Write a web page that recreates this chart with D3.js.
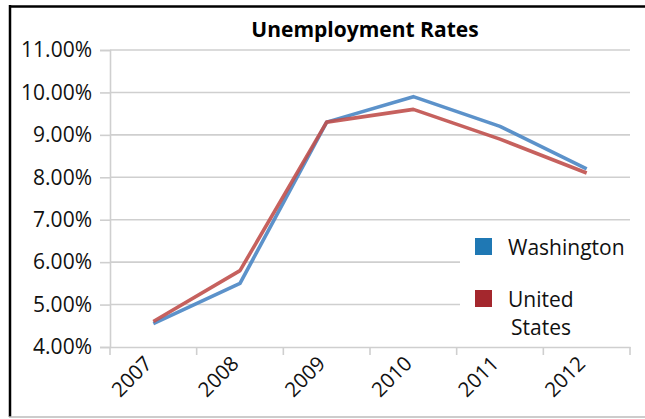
<!DOCTYPE html>
<html><head><meta charset="utf-8">
<script src="https://cdn.jsdelivr.net/npm/d3@7"></script>
<style>
html,body{margin:0;padding:0;background:#fff;}
svg{display:block;}
text{font-family:"Open Sans","Noto Sans",sans-serif;}
</style></head>
<body><svg id="c" width="645" height="419"></svg>
<script>
const years = ["2007","2008","2009","2010","2011","2012"];
const washington = [4.55, 5.5, 9.3, 9.9, 9.2, 8.2];
const unitedStates = [4.6, 5.8, 9.3, 9.6, 8.9, 8.1];
const yTicks = [4, 5, 6, 7, 8, 9, 10, 11];
const seriesNames = ["Washington", "United States"];
const seriesColors = ["#4a86c4", "#c0504d"];
const legendColors = ["#1f78b4", "#a4272d"];

const svg = d3.select("#c");
const mLeft = 110, mRight = 630, mTop = 50, mBottom = 347;

// frame
svg.append("line").attr("x1",9).attr("x2",645).attr("y1",6.5).attr("y2",6.5).attr("stroke","#000").attr("stroke-width",2.5);
svg.append("line").attr("x1",10).attr("x2",10).attr("y1",5).attr("y2",417).attr("stroke","#000").attr("stroke-width",2.5);
svg.append("line").attr("x1",9).attr("x2",645).attr("y1",417).attr("y2",417).attr("stroke","#bbb").attr("stroke-width",1.5);

const x = d3.scaleBand().domain(years).range([mLeft, mRight]);
const y = d3.scaleLinear().domain([4, 11]).range([mBottom, mTop]);

// gridlines
svg.append("g").selectAll("line").data(yTicks.slice(1)).join("line")
  .attr("x1", mLeft).attr("x2", mRight)
  .attr("y1", d => y(d)).attr("y2", d => y(d))
  .attr("stroke", "#cfcfcf").attr("stroke-width", 1.6);

// y axis
const ya = svg.append("g").attr("transform", `translate(${mLeft},0)`)
  .call(d3.axisLeft(y).tickValues(yTicks).tickSize(10).tickPadding(8).tickFormat(d => d.toFixed(2) + "%"));
ya.select(".domain").attr("stroke", "#cfcfcf").attr("stroke-width", 1.6);
ya.selectAll(".tick line").attr("stroke", "#cfcfcf").attr("stroke-width", 1.6);
ya.selectAll("text").attr("font-size", 21).attr("fill", "#111")
  .attr("font-family", "'Open Sans', sans-serif");

// x axis
const xa = svg.append("g").attr("transform", `translate(0,${mBottom})`)
  .call(d3.axisBottom(x).tickSize(0).tickFormat(""));
xa.select(".domain").attr("stroke", "#cfcfcf").attr("stroke-width", 1.6);
svg.append("g").selectAll("line").data(years.concat(["end"])).join("line")
  .attr("x1", (d,i) => mLeft + i * x.step()).attr("x2", (d,i) => mLeft + i * x.step())
  .attr("y1", mBottom).attr("y2", mBottom + 8)
  .attr("stroke", "#cfcfcf").attr("stroke-width", 1.6);
svg.append("g").selectAll("text").data(years).join("text")
  .attr("transform", d => `translate(${x(d) + x.bandwidth()/2},${mBottom + 18}) rotate(-45)`)
  .attr("text-anchor", "end").attr("font-size", 20.5).attr("fill", "#111")
  .text(d => d);

// legend background
svg.append("rect").attr("x", 460).attr("y", 226).attr("width", 175).attr("height", 114).attr("fill", "#fff");

// lines
const line = d3.line().x((d,i) => x(years[i]) + x.bandwidth()/2).y(d => y(d));
[washington, unitedStates].forEach((s, k) => {
  svg.append("path").datum(s).attr("d", line).attr("fill", "none")
    .attr("stroke", seriesColors[k]).attr("stroke-width", 3.6)
    .attr("stroke-linejoin", "round").attr("stroke-opacity", 0.9);
});

// title
svg.append("text").attr("x", 365).attr("y", 37).attr("text-anchor", "middle")
  .attr("font-size", 21).attr("font-weight", "bold").attr("fill", "#000")
  .text("Unemployment Rates");

// legend
const lg = svg.append("g");
lg.append("rect").attr("x", 475).attr("y", 238).attr("width", 17).attr("height", 17).attr("fill", legendColors[0]);
lg.append("text").attr("x", 508).attr("y", 255).attr("font-size", 21).attr("fill", "#111").text(seriesNames[0]);
lg.append("rect").attr("x", 475).attr("y", 290).attr("width", 17).attr("height", 17).attr("fill", legendColors[1]);
lg.append("text").attr("x", 508).attr("y", 307).attr("font-size", 21).attr("fill", "#111").text("United");
lg.append("text").attr("x", 511).attr("y", 335).attr("font-size", 21).attr("fill", "#111").text("States");
</script></body></html>
